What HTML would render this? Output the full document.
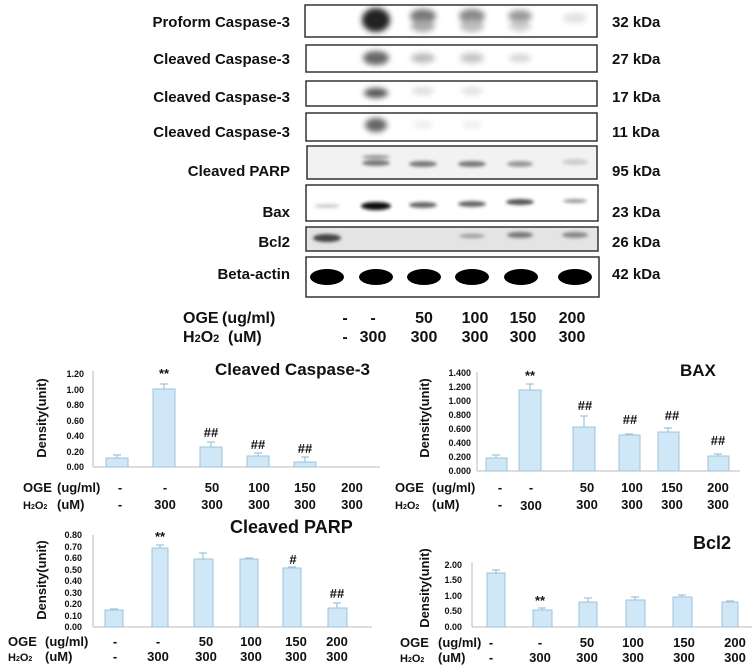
<!DOCTYPE html>
<html><head><meta charset="utf-8"><style>
body{margin:0;background:#fff}
svg{display:block}
text{font-family:"Liberation Sans",sans-serif;font-weight:bold;fill:#111}
.t{font-size:9px}
.r{font-size:15px}
.bar{fill:#cfe7f7;stroke:#9fc3da;stroke-width:1}
.e{stroke:#9fc3da;stroke-width:1.2}
.ax{stroke:#bbb;stroke-width:1}
.box{fill:#fff;stroke:#333;stroke-width:1.5}
</style></head><body>
<svg width="755" height="670" viewBox="0 0 755 670">
<defs>
<filter id="b" x="-50%" y="-50%" width="200%" height="200%"><feGaussianBlur stdDeviation="3"/></filter>
<filter id="b2" x="-50%" y="-50%" width="200%" height="200%"><feGaussianBlur stdDeviation="1.5"/></filter>
</defs>
<g class="r" text-anchor="end">
<text x="290" y="27">Proform Caspase-3</text>
<text x="290" y="64">Cleaved Caspase-3</text>
<text x="290" y="102">Cleaved Caspase-3</text>
<text x="290" y="137">Cleaved Caspase-3</text>
<text x="290" y="176">Cleaved PARP</text>
<text x="290" y="217">Bax</text>
<text x="290" y="247">Bcl2</text>
<text x="290" y="279">Beta-actin</text>
</g>
<g class="r">
<text x="612" y="27">32 kDa</text>
<text x="612" y="64">27 kDa</text>
<text x="612" y="102">17 kDa</text>
<text x="612" y="137">11 kDa</text>
<text x="612" y="176">95 kDa</text>
<text x="612" y="217">23 kDa</text>
<text x="612" y="247">26 kDa</text>
<text x="612" y="279">42 kDa</text>
</g>
<rect class="box" x="305" y="5" width="292" height="32"/>
<rect class="box" x="306" y="45" width="291" height="27"/>
<rect class="box" x="306" y="81" width="291" height="25"/>
<rect class="box" x="306" y="113" width="291" height="28"/>
<rect class="box" x="307" y="146" width="290" height="33" style="fill:#f2f2f2"/>
<rect class="box" x="306" y="185" width="292" height="36"/>
<rect class="box" x="306" y="227" width="292" height="24" style="fill:#e4e4e4"/>
<rect class="box" x="306" y="257" width="293" height="40"/>
<g filter="url(#b)">
<ellipse cx="376" cy="20" rx="14" ry="12" fill="#222"/>
<ellipse cx="423" cy="16" rx="13" ry="7" fill="#777"/><ellipse cx="423" cy="26" rx="12" ry="6" fill="#aaa"/>
<ellipse cx="472" cy="16" rx="13" ry="7" fill="#888"/><ellipse cx="472" cy="26" rx="12" ry="6" fill="#bbb"/>
<ellipse cx="520" cy="16" rx="12" ry="6" fill="#999"/><ellipse cx="520" cy="26" rx="11" ry="5" fill="#ccc"/>
<ellipse cx="575" cy="18" rx="12" ry="5" fill="#e0e0e0"/>
<ellipse cx="376" cy="58" rx="13" ry="7" fill="#666"/>
<ellipse cx="423" cy="58" rx="12" ry="5" fill="#bbb"/><ellipse cx="472" cy="58" rx="12" ry="5" fill="#c4c4c4"/><ellipse cx="520" cy="58" rx="11" ry="4" fill="#d4d4d4"/>
<ellipse cx="376" cy="93" rx="12" ry="5" fill="#555"/>
<ellipse cx="423" cy="91" rx="11" ry="4" fill="#ddd"/><ellipse cx="472" cy="91" rx="11" ry="4" fill="#e2e2e2"/>
<ellipse cx="376" cy="125" rx="11" ry="7" fill="#666"/>
<ellipse cx="423" cy="125" rx="10" ry="3" fill="#e8e8e8"/><ellipse cx="472" cy="125" rx="10" ry="3" fill="#e8e8e8"/>
</g>
<g filter="url(#b2)">
<ellipse cx="376" cy="157" rx="14" ry="2" fill="#999"/>
<ellipse cx="376" cy="163" rx="14" ry="3" fill="#777"/>
<ellipse cx="423" cy="164" rx="14" ry="3" fill="#777"/>
<ellipse cx="472" cy="164" rx="14" ry="3" fill="#777"/>
<ellipse cx="520" cy="164" rx="13" ry="3" fill="#999"/>
<ellipse cx="575" cy="162" rx="13" ry="3" fill="#ccc"/>
<ellipse cx="327" cy="206" rx="13" ry="2" fill="#ccc"/>
<ellipse cx="376" cy="206" rx="15" ry="4" fill="#111"/>
<ellipse cx="423" cy="205" rx="14" ry="3" fill="#666"/>
<ellipse cx="472" cy="204" rx="14" ry="3" fill="#666"/>
<ellipse cx="520" cy="202" rx="14" ry="3" fill="#555"/>
<ellipse cx="575" cy="201" rx="12" ry="2" fill="#999"/>
<ellipse cx="327" cy="238" rx="14" ry="4" fill="#444"/>
<ellipse cx="472" cy="236" rx="13" ry="2" fill="#999"/>
<ellipse cx="520" cy="235" rx="13" ry="3" fill="#777"/>
<ellipse cx="575" cy="235" rx="13" ry="3" fill="#888"/>
</g>
<g fill="#000">
<ellipse cx="327" cy="277" rx="17" ry="8"/><ellipse cx="376" cy="277" rx="17" ry="8"/>
<ellipse cx="424" cy="277" rx="17" ry="8"/><ellipse cx="472" cy="277" rx="17" ry="8"/>
<ellipse cx="521" cy="277" rx="17" ry="8"/><ellipse cx="575" cy="277" rx="17" ry="8"/>
</g>
<g style="font-size:16px">
<text x="183" y="323">OGE</text><text x="222" y="323">(ug/ml)</text>
<text x="183" y="342">H<tspan font-size="11">2</tspan>O<tspan font-size="11">2</tspan></text><text x="228" y="342">(uM)</text>
<g text-anchor="middle">
<text x="345" y="323">-</text><text x="373" y="323">-</text><text x="424" y="323">50</text><text x="475" y="323">100</text><text x="523" y="323">150</text><text x="572" y="323">200</text>
<text x="345" y="342">-</text><text x="373" y="342">300</text><text x="424" y="342">300</text><text x="475" y="342">300</text><text x="523" y="342">300</text><text x="572" y="342">300</text>
</g></g>

<!-- Chart 1 -->
<text x="215" y="375" style="font-size:17px">Cleaved Caspase-3</text>
<text transform="translate(46,418) rotate(-90)" text-anchor="middle" style="font-size:13px">Density(unit)</text>
<g class="t" text-anchor="end">
<text x="84" y="377">1.20</text><text x="84" y="393">1.00</text><text x="84" y="408">0.80</text><text x="84" y="424">0.60</text><text x="84" y="439">0.40</text><text x="84" y="455">0.20</text><text x="84" y="470">0.00</text>
</g>
<line class="ax" x1="93" y1="371" x2="93" y2="467"/><line class="ax" x1="93" y1="467" x2="380" y2="467"/>
<g class="e"><line x1="117" y1="455" x2="117" y2="458"/><line x1="164" y1="384" x2="164" y2="389"/><line x1="211" y1="442" x2="211" y2="447"/><line x1="258" y1="453" x2="258" y2="456"/><line x1="305" y1="457" x2="305" y2="462"/>
<line x1="113" y1="455" x2="121" y2="455"/><line x1="160" y1="384" x2="168" y2="384"/><line x1="207" y1="442" x2="215" y2="442"/><line x1="254" y1="453" x2="262" y2="453"/><line x1="301" y1="457" x2="309" y2="457"/></g>
<rect class="bar" x="106" y="458" width="22" height="9"/><rect class="bar" x="153" y="389" width="22" height="78"/><rect class="bar" x="200" y="447" width="22" height="20"/><rect class="bar" x="247" y="456" width="22" height="11"/><rect class="bar" x="294" y="462" width="22" height="5"/>
<g text-anchor="middle" style="font-size:13px"><text x="164" y="378">**</text><text x="211" y="437">##</text><text x="258" y="449">##</text><text x="305" y="453">##</text></g>
<g style="font-size:13px">
<text x="23" y="492">OGE</text><text x="57" y="492">(ug/ml)</text>
<text x="23" y="509" style="font-size:11px">H<tspan font-size="7">2</tspan>O<tspan font-size="7">2</tspan></text><text x="57" y="509">(uM)</text>
<g text-anchor="middle">
<text x="120" y="492">-</text><text x="165" y="492">-</text><text x="212" y="492">50</text><text x="259" y="492">100</text><text x="305" y="492">150</text><text x="352" y="492">200</text>
<text x="120" y="509">-</text><text x="165" y="509">300</text><text x="212" y="509">300</text><text x="259" y="509">300</text><text x="305" y="509">300</text><text x="352" y="509">300</text>
</g></g>

<!-- BAX -->
<text x="680" y="376" style="font-size:17px">BAX</text>
<text transform="translate(429,418) rotate(-90)" text-anchor="middle" style="font-size:13px">Density(unit)</text>
<g class="t" text-anchor="end">
<text x="471" y="376">1.400</text><text x="471" y="390">1.200</text><text x="471" y="404">1.000</text><text x="471" y="418">0.800</text><text x="471" y="432">0.600</text><text x="471" y="446">0.400</text><text x="471" y="460">0.200</text><text x="471" y="474">0.000</text>
</g>
<line class="ax" x1="477" y1="372" x2="477" y2="471"/><line class="ax" x1="477" y1="471" x2="740" y2="471"/>
<g class="e"><line x1="496" y1="455" x2="496" y2="458"/><line x1="530" y1="384" x2="530" y2="390"/><line x1="584" y1="416" x2="584" y2="427"/><line x1="629" y1="434" x2="629" y2="435"/><line x1="668" y1="428" x2="668" y2="432"/><line x1="718" y1="454" x2="718" y2="456"/>
<line x1="492" y1="455" x2="500" y2="455"/><line x1="526" y1="384" x2="534" y2="384"/><line x1="580" y1="416" x2="588" y2="416"/><line x1="625" y1="434" x2="633" y2="434"/><line x1="664" y1="428" x2="672" y2="428"/><line x1="714" y1="454" x2="722" y2="454"/></g>
<rect class="bar" x="486" y="458" width="21" height="13"/><rect class="bar" x="519" y="390" width="22" height="81"/><rect class="bar" x="573" y="427" width="22" height="44"/><rect class="bar" x="619" y="435" width="21" height="36"/><rect class="bar" x="658" y="432" width="21" height="39"/><rect class="bar" x="708" y="456" width="21" height="15"/>
<g text-anchor="middle" style="font-size:13px"><text x="530" y="380">**</text><text x="585" y="410">##</text><text x="630" y="424">##</text><text x="672" y="420">##</text><text x="718" y="445">##</text></g>
<g style="font-size:13px">
<text x="395" y="492">OGE</text><text x="432" y="492">(ug/ml)</text>
<text x="395" y="509" style="font-size:11px">H<tspan font-size="7">2</tspan>O<tspan font-size="7">2</tspan></text><text x="432" y="509">(uM)</text>
<g text-anchor="middle">
<text x="500" y="492">-</text><text x="531" y="492">-</text><text x="587" y="492">50</text><text x="632" y="492">100</text><text x="672" y="492">150</text><text x="718" y="492">200</text>
<text x="500" y="509">-</text><text x="531" y="510">300</text><text x="587" y="509">300</text><text x="632" y="509">300</text><text x="672" y="509">300</text><text x="718" y="509">300</text>
</g></g>

<!-- PARP -->
<text x="230" y="533" style="font-size:18px">Cleaved PARP</text>
<text transform="translate(46,580) rotate(-90)" text-anchor="middle" style="font-size:13px">Density(unit)</text>
<g class="t" text-anchor="end">
<text x="82" y="538">0.80</text><text x="82" y="550">0.70</text><text x="82" y="561">0.60</text><text x="82" y="573">0.50</text><text x="82" y="584">0.40</text><text x="82" y="596">0.30</text><text x="82" y="607">0.20</text><text x="82" y="619">0.10</text><text x="82" y="630">0.00</text>
</g>
<line class="ax" x1="93" y1="535" x2="93" y2="627"/><line class="ax" x1="93" y1="627" x2="372" y2="627"/>
<g class="e"><line x1="114" y1="609" x2="114" y2="610"/><line x1="160" y1="545" x2="160" y2="548"/><line x1="203" y1="553" x2="203" y2="559"/><line x1="249" y1="558" x2="249" y2="559"/><line x1="292" y1="567" x2="292" y2="568"/><line x1="337" y1="603" x2="337" y2="608"/>
<line x1="110" y1="609" x2="118" y2="609"/><line x1="156" y1="545" x2="164" y2="545"/><line x1="199" y1="553" x2="207" y2="553"/><line x1="245" y1="558" x2="253" y2="558"/><line x1="288" y1="567" x2="296" y2="567"/><line x1="333" y1="603" x2="341" y2="603"/></g>
<rect class="bar" x="105" y="610" width="18" height="17"/><rect class="bar" x="152" y="548" width="16" height="79"/><rect class="bar" x="194" y="559" width="19" height="68"/><rect class="bar" x="240" y="559" width="18" height="68"/><rect class="bar" x="283" y="568" width="18" height="59"/><rect class="bar" x="328" y="608" width="19" height="19"/>
<g text-anchor="middle" style="font-size:13px"><text x="160" y="541">**</text><text x="293" y="564">#</text><text x="337" y="598">##</text></g>
<g style="font-size:13px">
<text x="8" y="646">OGE</text><text x="45" y="646">(ug/ml)</text>
<text x="8" y="661" style="font-size:11px">H<tspan font-size="7">2</tspan>O<tspan font-size="7">2</tspan></text><text x="45" y="661">(uM)</text>
<g text-anchor="middle">
<text x="115" y="646">-</text><text x="158" y="646">-</text><text x="206" y="646">50</text><text x="251" y="646">100</text><text x="296" y="646">150</text><text x="337" y="646">200</text>
<text x="115" y="661">-</text><text x="158" y="661">300</text><text x="206" y="661">300</text><text x="251" y="661">300</text><text x="296" y="661">300</text><text x="337" y="661">300</text>
</g></g>

<!-- Bcl2 -->
<text x="693" y="549" style="font-size:18px">Bcl2</text>
<text transform="translate(429,588) rotate(-90)" text-anchor="middle" style="font-size:13px">Density(unit)</text>
<g class="t" text-anchor="end">
<text x="462" y="568">2.00</text><text x="462" y="583">1.50</text><text x="462" y="599">1.00</text><text x="462" y="614">0.50</text><text x="462" y="630">0.00</text>
</g>
<line class="ax" x1="472" y1="562" x2="472" y2="627"/><line class="ax" x1="472" y1="627" x2="752" y2="627"/>
<g class="e"><line x1="496" y1="570" x2="496" y2="573"/><line x1="542" y1="608" x2="542" y2="610"/><line x1="588" y1="598" x2="588" y2="602"/><line x1="635" y1="597" x2="635" y2="600"/><line x1="682" y1="595" x2="682" y2="597"/><line x1="730" y1="601" x2="730" y2="602"/>
<line x1="492" y1="570" x2="500" y2="570"/><line x1="538" y1="608" x2="546" y2="608"/><line x1="584" y1="598" x2="592" y2="598"/><line x1="631" y1="597" x2="639" y2="597"/><line x1="678" y1="595" x2="686" y2="595"/><line x1="726" y1="601" x2="734" y2="601"/></g>
<rect class="bar" x="487" y="573" width="18" height="54"/><rect class="bar" x="533" y="610" width="19" height="17"/><rect class="bar" x="579" y="602" width="18" height="25"/><rect class="bar" x="626" y="600" width="19" height="27"/><rect class="bar" x="673" y="597" width="19" height="30"/><rect class="bar" x="722" y="602" width="16" height="25"/>
<g text-anchor="middle" style="font-size:13px"><text x="540" y="605">**</text></g>
<g style="font-size:13px">
<text x="400" y="647">OGE</text><text x="438" y="647">(ug/ml)</text>
<text x="400" y="662" style="font-size:11px">H<tspan font-size="7">2</tspan>O<tspan font-size="7">2</tspan></text><text x="438" y="662">(uM)</text>
<g text-anchor="middle">
<text x="491" y="647">-</text><text x="540" y="647">-</text><text x="587" y="647">50</text><text x="633" y="647">100</text><text x="684" y="647">150</text><text x="735" y="647">200</text>
<text x="491" y="662">-</text><text x="540" y="662">300</text><text x="587" y="662">300</text><text x="633" y="662">300</text><text x="684" y="662">300</text><text x="735" y="662">300</text>
</g></g>
</svg>
</body></html>
